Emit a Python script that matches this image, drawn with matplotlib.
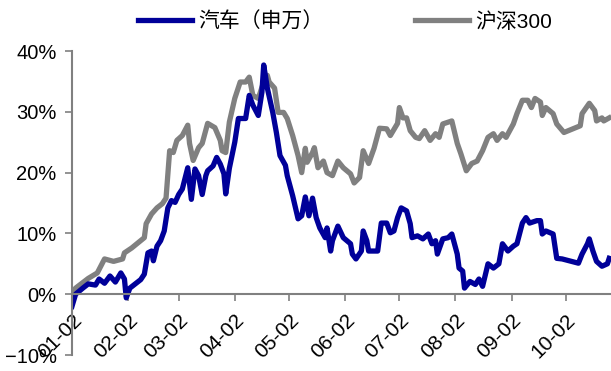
import matplotlib
matplotlib.use('Agg')
import matplotlib.pyplot as plt
import matplotlib.dates as mdates
from matplotlib.ticker import PercentFormatter
import pandas as pd

plt.rcParams['font.family'] = ['Liberation Sans', 'Noto Sans CJK SC']
plt.rcParams['axes.unicode_minus'] = True

YEAR = '2019'

# 沪深300 cumulative return (%)
hs300_dates = ['01-02', '01-04', '01-11', '01-16', '01-20', '01-25', '01-30', '01-31',
               '02-04', '02-11', '02-12', '02-15', '02-18', '02-21', '02-23', '02-25',
               '02-27', '03-01', '03-04', '03-07', '03-08', '03-10', '03-13', '03-15',
               '03-18', '03-22', '03-25', '03-26', '03-28', '03-30', '04-02', '04-05',
               '04-08', '04-10', '04-12', '04-15', '04-18', '04-20', '04-21', '04-24',
               '04-26', '04-29', '05-01', '05-04', '05-07', '05-09', '05-11', '05-12',
               '05-15', '05-16', '05-18', '05-21', '05-23', '05-26', '05-29', '06-01',
               '06-05', '06-07', '06-10', '06-12', '06-15', '06-18', '06-21', '06-25',
               '06-27', '07-01', '07-02', '07-04', '07-06', '07-08', '07-11', '07-13',
               '07-16', '07-19', '07-22', '07-24', '07-26', '07-31', '08-03', '08-05',
               '08-08', '08-11', '08-14', '08-17', '08-20', '08-23', '08-25', '08-28',
               '08-30', '09-03', '09-05', '09-08', '09-11', '09-13', '09-15', '09-18',
               '09-19', '09-21', '09-25', '09-27', '10-01', '10-10', '10-11', '10-15',
               '10-18', '10-19', '10-22', '10-23', '10-26']
hs300 = [0.2, 1.0, 2.6, 3.5, 5.8, 5.4, 5.8, 6.8,
         7.6, 9.3, 11.6, 13.2, 14.2, 14.9, 15.8, 23.6,
         23.3, 25.3, 26.1, 27.8, 24.8, 22.0, 24.1, 24.8,
         28.1, 27.4, 25.3, 23.6, 23.3, 28.3, 32.2, 34.9,
         34.9, 35.7, 32.7, 32.2, 34.9, 36.0, 34.9, 33.9,
         29.9, 29.9, 28.9, 26.1, 22.8, 20.0, 24.0, 21.7,
         23.3, 24.1, 20.8, 21.9, 20.0, 19.5, 21.9, 20.8,
         19.8, 18.3, 19.2, 23.6, 21.5, 24.0, 27.3, 27.2,
         26.1, 28.1, 30.7, 29.0, 29.0, 26.9, 25.8, 25.6,
         26.9, 25.3, 26.4, 25.8, 28.0, 28.5, 24.8, 23.1,
         20.3, 21.5, 21.9, 23.6, 25.8, 26.4, 25.3, 26.4,
         25.8, 28.0, 29.7, 31.9, 31.9, 30.7, 32.2, 31.6,
         29.4, 30.7, 29.7, 28.0, 26.6, 27.7, 29.7, 31.4,
         30.2, 28.5, 29.0, 28.5, 29.0]

# 汽车（申万） cumulative return (%)
auto_dates = ['01-02', '01-04', '01-08', '01-11', '01-15', '01-17', '01-20', '01-23',
              '01-26', '01-29', '01-31', '02-01', '02-03', '02-09', '02-11', '02-13',
              '02-15', '02-16', '02-18', '02-20', '02-22', '02-24', '02-26', '02-28',
              '03-02', '03-04', '03-07', '03-09', '03-11', '03-13', '03-15', '03-17',
              '03-18', '03-21', '03-23', '03-25', '03-27', '03-28', '03-30', '04-02',
              '04-04', '04-08', '04-10', '04-12', '04-15', '04-17', '04-18', '04-20',
              '04-23', '04-25', '04-27', '04-30', '05-01', '05-04', '05-07', '05-09',
              '05-11', '05-13', '05-15', '05-17', '05-19', '05-22', '05-23', '05-25',
              '05-26', '05-29', '06-01', '06-05', '06-06', '06-08', '06-11', '06-12',
              '06-14', '06-15', '06-20', '06-22', '06-25', '06-27', '06-29', '07-01',
              '07-03', '07-06', '07-08', '07-09', '07-12', '07-15', '07-18', '07-20',
              '07-22', '07-23', '07-26', '07-29', '07-31', '08-03', '08-04', '08-06',
              '08-07', '08-10', '08-13', '08-15', '08-17', '08-20', '08-23', '08-26',
              '08-28', '08-31', '09-03', '09-05', '09-08', '09-10', '09-12', '09-16',
              '09-18', '09-19', '09-21', '09-25', '09-27', '09-30', '10-09', '10-11',
              '10-14', '10-15', '10-17', '10-19', '10-22', '10-25', '10-26']
auto = [-2.0, 0.0, 1.0, 1.7, 1.5, 2.5, 1.8, 3.0,
        2.0, 3.5, 2.5, -0.6, 1.0, 2.4, 3.3, 6.8,
        7.1, 5.5, 7.9, 8.8, 10.4, 14.2, 15.4, 15.1,
        16.4, 17.3, 20.8, 15.6, 20.6, 19.5, 16.4, 19.5,
        20.3, 21.1, 22.5, 21.4, 19.8, 16.5, 20.7, 25.0,
        28.9, 28.9, 32.7, 31.1, 29.4, 33.2, 37.7, 33.9,
        29.9, 26.6, 22.8, 21.2, 19.5, 16.2, 12.4, 12.9,
        16.0, 12.9, 15.8, 12.6, 10.9, 9.3, 10.9, 7.1,
        8.8, 11.2, 9.3, 8.3, 6.6, 5.8, 7.1, 10.4,
        8.8, 7.1, 7.1, 11.7, 11.7, 10.1, 10.4, 12.6,
        14.2, 13.7, 11.6, 9.3, 9.6, 9.1, 9.9, 8.3,
        8.8, 6.6, 9.1, 9.3, 9.9, 6.6, 4.3, 3.8,
        1.0, 2.1, 1.6, 2.5, 1.3, 5.0, 4.3, 5.0,
        8.3, 7.1, 7.9, 8.3, 11.7, 12.6, 11.7, 12.1,
        12.1, 9.9, 10.4, 9.9, 5.9, 5.8, 5.1, 6.6,
        8.3, 9.1, 7.1, 5.4, 4.6, 5.0, 5.9]

tick_labels = ['01-02', '02-02', '03-02', '04-02', '05-02',
               '06-02', '07-02', '08-02', '09-02', '10-02']


def to_dates(md):
    return pd.to_datetime([YEAR + '-' + d for d in md])


fig = plt.figure(figsize=(6.11, 3.71), dpi=100)
ax = fig.add_axes([0.1178, 0.0431, 0.8822, 0.8194])

l_hs, = ax.plot(to_dates(hs300_dates), hs300, color='#808080', lw=3.8,
                solid_joinstyle='round', label='沪深300')
l_auto, = ax.plot(to_dates(auto_dates), auto, color='#000099', lw=3.8,
                  solid_joinstyle='round', label='汽车（申万）')

ax.set_ylim(-10, 40)
ax.set_yticks([-10, 0, 10, 20, 30, 40])
ax.yaxis.set_major_formatter(PercentFormatter(decimals=0))
ax.set_xlim(pd.Timestamp(YEAR + '-01-02'), pd.Timestamp(YEAR + '-10-27'))
ax.set_xticks(to_dates(tick_labels))
ax.xaxis.set_major_formatter(mdates.DateFormatter('%m-%d'))

for s in ['top', 'right']:
    ax.spines[s].set_visible(False)
ax.spines['bottom'].set_position(('data', 0))
for s in ['left', 'bottom']:
    ax.spines[s].set_color('#808080')
    ax.spines[s].set_linewidth(1.5)

ax.tick_params(axis='y', direction='out', length=5, width=1.2, color='#808080',
               labelsize=14.5, pad=6)
ax.tick_params(axis='x', direction='out', length=5, width=1.2, color='#808080',
               labelsize=15, pad=7)
for lab in ax.get_xticklabels():
    lab.set_rotation(45)
    lab.set_ha('right')
    lab.set_rotation_mode('anchor')

fig.legend([l_auto, l_hs], ['汽车（申万）', '沪深300'], loc='center',
           bbox_to_anchor=(0.565, 0.942), ncol=2, frameon=False, fontsize=15,
           handlelength=2.6, handletextpad=0.3, columnspacing=4.4)

fig.savefig('out.png', dpi=100)
